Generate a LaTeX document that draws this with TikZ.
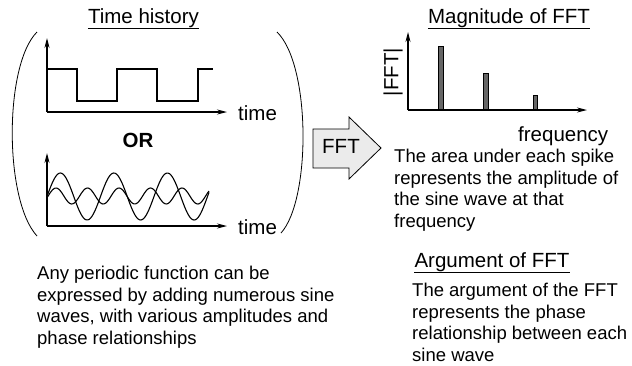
\documentclass[tikz,border=0pt]{standalone}
\usepackage{fontspec}
\setmainfont{Liberation Sans}
\usetikzlibrary{arrows.meta}
\begin{document}
\begin{tikzpicture}[x=1pt,y=-1pt,
  lbl/.style={inner sep=0pt,font=\fontsize{20.5}{24}\selectfont},
  body/.style={inner sep=0pt,align=left,anchor=north west,font=\fontsize{18.5}{21.5}\selectfont},
  axis/.style={line width=1.1pt,-{Stealth[length=10pt,width=5pt]}},
  curve/.style={line width=1.1pt},
  paren/.style={line width=0.8pt},
  bar/.style={line width=0.6pt,fill=black!60,draw=black}]
\useasboundingbox (0,0) rectangle (632,365);
% titles
\node[lbl] (th) at (143.5,18) {Time history};
\draw[line width=0.8pt] ([yshift=-1pt]th.south west) -- ([yshift=-1pt]th.south east);
\node[lbl] (mag) at (509,18) {Magnitude of FFT};
\draw[line width=0.8pt] ([yshift=-1pt]mag.south west) -- ([yshift=-1pt]mag.south east);
\node[lbl] (arg) at (492,262) {Argument of FFT};
\draw[line width=0.8pt] ([yshift=-1pt]arg.south west) -- ([yshift=-1pt]arg.south east);
% parentheses
\draw[paren] (37,32) .. controls (4,65) and (4,200) .. (37,236);
\draw[paren] (277,32) .. controls (311,65) and (311,200) .. (281,233);
% top square wave
\coordinate (o1) at (47,112);
\coordinate (y1) at (47,38);
\coordinate (x1) at (227,112);
\draw[axis] (o1) -- (y1);
\draw[axis] (o1) -- (x1);
\draw[curve] (47,69) -- (77,69) -- (77,101) -- (117,101) -- (117,69) -- (157,69) -- (157,101) -- (198,101) -- (198,69) -- (213,69);
\node[lbl,anchor=base west] (t1) at (238,120) {time};
\node[lbl,font=\bfseries\fontsize{20.5}{24}\selectfont] (or) at (138,140) {OR};
% bottom sine waves
\coordinate (o2) at (47,226);
\coordinate (y2) at (47,153);
\coordinate (x2) at (227,226);
\draw[axis] (o2) -- (y2);
\draw[axis] (o2) -- (x2);
\draw[curve] plot[domain=47:209,samples=120,smooth] (\x,{196.5-23.5*sin(6.729*(\x-47))});
\draw[curve] plot[domain=47:209,samples=120,smooth] (\x,{196-8*cos(11.4286*(\x-56))});
\node[lbl,anchor=base west] (t2) at (238,234.5) {time};
% FFT arrow
\draw[line width=0.8pt,fill=black!8] (313,129) -- (349,129) -- (349,117) -- (381,148) -- (349,179) -- (349,168) -- (313,168) -- cycle;
\node[lbl] (fft) at (341,146) {FFT};
% spectrum
\coordinate (o3) at (408,110);
\coordinate (y3) at (408,32);
\coordinate (x3) at (587,110);
\draw[bar] (438,110) rectangle (443,46);
\draw[bar] (483,110) rectangle (488,73);
\draw[bar] (533,110) rectangle (537,95);
\draw[axis] (o3) -- (y3);
\draw[axis] (o3) -- (x3);
\node[lbl,rotate=90] (absfft) at (393,72) {|FFT|};
\node[lbl,anchor=base west] (freq) at (518,141) {frequency};
% texts
\node[body] (area) at (394,149) {The area under each spike\\represents the amplitude of\\the sine wave at that\\frequency};
\node[body] (any) at (37,266) {Any periodic function can be\\expressed by adding numerous sine\\waves, with various amplitudes and\\phase relationships};
\node[body] (argtxt) at (412,283) {The argument of the FFT\\represents the phase\\relationship between each\\sine wave};
\end{tikzpicture}
\end{document}
